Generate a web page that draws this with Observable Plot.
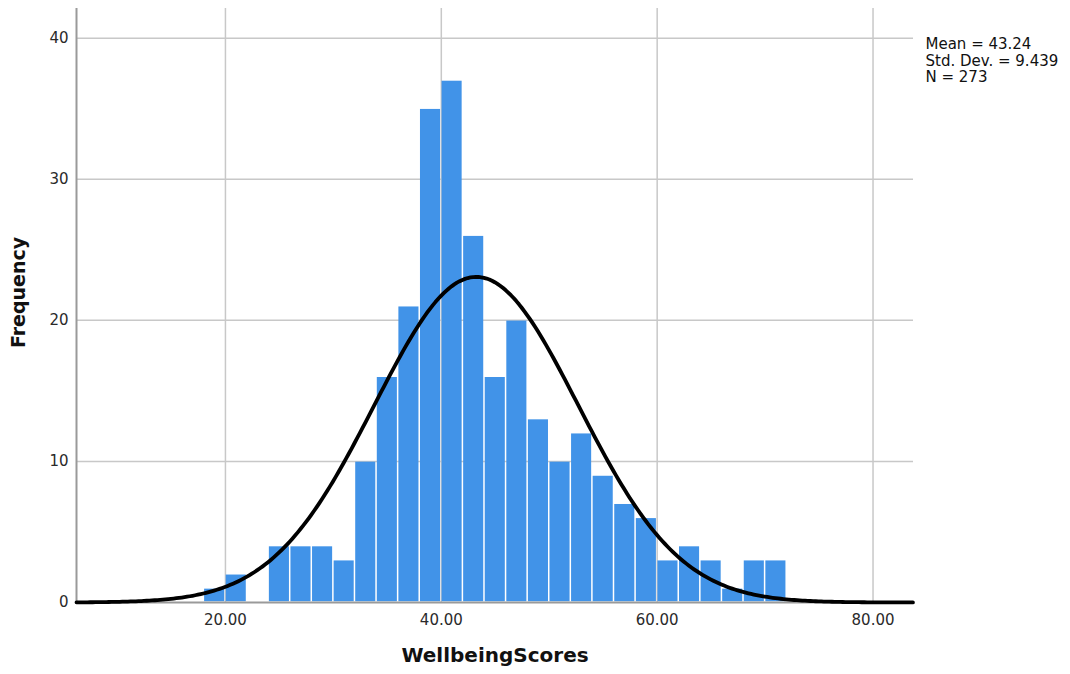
<!DOCTYPE html>
<html>
<head>
<meta charset="utf-8">
<script src="https://cdn.jsdelivr.net/npm/d3@7"></script>
<script src="https://cdn.jsdelivr.net/npm/@observablehq/plot@0.6"></script>
<style>
  html, body { margin: 0; padding: 0; background: #fff; }
  #chart svg { display: block; }
</style>
</head>
<body>
<div id="chart"></div>
<script>
// Histogram bins (lower edges, width 2) and frequencies
const binStarts = [18, 20, 22, 24, 26, 28, 30, 32, 34, 36, 38, 40, 42, 44, 46, 48, 50, 52, 54, 56, 58, 60, 62, 64, 66, 68, 70];
const frequencies = [1, 2, 0, 4, 4, 4, 3, 10, 16, 21, 35, 37, 26, 16, 20, 13, 10, 12, 9, 7, 6, 3, 4, 3, 1, 3, 3];
const binWidth = 2;

// Summary statistics shown in the chart
const meanValue = 43.24;
const stdDev = 9.439;
const nCount = 273;
const statsLines = ["Mean = 43.24", "Std. Dev. = 9.439", "N = 273"];

const xTicks = [20, 40, 60, 80];
const yTicks = [0, 10, 20, 30, 40];
const xDomain = [6.2, 83.75];
const yDomain = [0, 42.1];

const bins = binStarts.map((s, i) => ({x1: s, x2: s + binWidth, count: frequencies[i]}));

// Fitted normal curve from the displayed Mean, Std. Dev. and N
const curveXs = d3.range(xDomain[0], xDomain[1] + 0.001, 0.25);
const normal = curveXs.map(x => ({
  x,
  y: nCount * binWidth / (stdDev * Math.sqrt(2 * Math.PI)) * Math.exp(-0.5 * ((x - meanValue) / stdDev) ** 2)
}));

const chart = Plot.plot({
  width: 1070,
  height: 674,
  marginLeft: 76,
  marginRight: 157,
  marginTop: 8,
  marginBottom: 72,
  style: {fontFamily: "DejaVu Sans, sans-serif", color: "#333", background: "#fff"},
  x: {domain: xDomain},
  y: {domain: yDomain},
  marks: [
    Plot.gridX(xTicks, {stroke: "#c8c8c8", strokeOpacity: 1, strokeWidth: 1.5}),
    Plot.gridY(yTicks.filter(d => d > 0), {stroke: "#c8c8c8", strokeOpacity: 1, strokeWidth: 1.5}),
    Plot.rectY(bins, {x1: "x1", x2: "x2", y: "count", fill: "#4193e8", inset: 0.75}),
    Plot.ruleX([xDomain[0]], {stroke: "#9a9a9a", strokeWidth: 2}),
    Plot.ruleY([0], {stroke: "#9a9a9a", strokeWidth: 2}),
    Plot.line(normal, {x: "x", y: "y", stroke: "#000", strokeWidth: 3.8}),
    Plot.axisX(xTicks, {tickSize: 0, tickPadding: 12, tickFormat: d3.format(".2f"), fontSize: 15, fill: "#2a2a2a", label: null}),
    Plot.axisY(yTicks, {tickSize: 0, tickPadding: 8, fontSize: 15, fill: "#2a2a2a", label: null}),
    Plot.text(["WellbeingScores"], {frameAnchor: "bottom", dy: 59, fontSize: 20, fontWeight: "bold", fill: "#111"}),
    Plot.text(["Frequency"], {frameAnchor: "left", textAnchor: "middle", dx: -58, dy: -13, rotate: -90, fontSize: 19, fontWeight: "bold", fill: "#111"}),
    Plot.text([statsLines.join("\n")], {frameAnchor: "top-right", textAnchor: "start", lineAnchor: "top", dx: 12, dy: 29, fontSize: 15, lineHeight: 1.1, fill: "#111"})
  ]
});
document.getElementById("chart").appendChild(chart);
</script>
</body>
</html>
